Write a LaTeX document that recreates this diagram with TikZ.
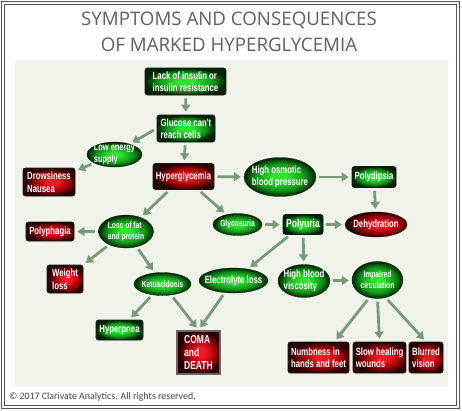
\documentclass[tikz,border=0pt]{standalone}
\usepackage{fontspec}
\setmainfont{Liberation Sans}
\newfontfamily\nf[FakeStretch=0.74]{Liberation Sans}
\newfontfamily\titlefont{Open Sans}
\newfontfamily\copyfont{Carlito}
\usetikzlibrary{arrows.meta,shapes.geometric}
\definecolor{gbright}{HTML}{2EE42E}
\definecolor{gmid}{HTML}{12941A}
\definecolor{gdark}{HTML}{002200}
\definecolor{rbright}{HTML}{F41822}
\definecolor{rmid}{HTML}{A0000A}
\definecolor{rdark}{HTML}{260000}
\definecolor{arrowc}{HTML}{789A76}
\definecolor{panel}{HTML}{EFF3EA}
\definecolor{titlec}{HTML}{606060}
\definecolor{framec}{HTML}{555555}
\pgfdeclareradialshading{greenglow}{\pgfpoint{0bp}{0bp}}{color(0bp)=(gbright); color(5bp)=(gbright); color(17bp)=(gmid); color(25bp)=(gdark); color(50bp)=(gdark)}
\pgfdeclareradialshading{redglow}{\pgfpoint{4bp}{0bp}}{color(0bp)=(rbright); color(5bp)=(rbright); color(16bp)=(rmid); color(25bp)=(rdark); color(50bp)=(rdark)}
\tikzset{
  basefont/.style={font=\nf\bfseries\fontsize{10.5}{12.5}\selectfont},
  midfont/.style={font=\nf\bfseries\fontsize{10}{12}\selectfont},
  smallfont/.style={font=\nf\bfseries\fontsize{9}{11}\selectfont},
  bigfont/.style={font=\nf\bfseries\fontsize{11.5}{13}\selectfont},
  boxbase/.style={rectangle, rounded corners=2.5pt, draw=black!90, line width=0.7pt,
    text=white, align=left, inner sep=-4pt, basefont},
  gbox/.style={boxbase, shading=greenglow},
  rbox/.style={boxbase, shading=redglow},
  ellbase/.style={ellipse, draw=gdark, line width=0.3pt, text=white, align=left,
    inner sep=-10pt, basefont},
  gell/.style={ellbase, shading=greenglow},
  rell/.style={ellbase, shading=redglow, draw=rdark},
  arr/.style={-{Triangle[width=9pt,length=7pt]}, line width=2.8pt, draw=arrowc,
    shorten <=3pt, shorten >=3pt},
  sz/.style 2 args={minimum width=#1pt, minimum height=#2pt}
}
\begin{document}
\begin{tikzpicture}[x=1pt,y=-1pt]
\useasboundingbox (0,0) rectangle (462,410);
\fill[white] (0,0) rectangle (462,410);
\draw[framec, line width=0.9pt] (1.5,1.5) rectangle (459,408.5);
\draw[framec, line width=0.9pt] (4,4) rectangle (456.5,405.5);
\fill[panel] (15,60) rectangle (448,387);

\node[font=\titlefont\fontsize{18.7}{26}\selectfont, text=titlec, align=center] (title) at (229,32)
  {SYMPTOMS AND CONSEQUENCES\\OF MARKED HYPERGLYCEMIA};
\node[font=\copyfont\fontsize{9.9}{11}\selectfont, text=black!75, anchor=west] (copy) at (5.5,397)
  {© 2017 Clarivate Analytics. All rights reserved.};

% nodes
\node[gbox, sz={81}{27}] (lack) at (185.5,81.5) {Lack of insulin or\\insulin resistance};
\node[gbox, sz={58}{27}] (gluc) at (186,128.5) {Glucose can't\\reach cells};
\node[gell, midfont, sz={55}{25}] (low) at (114.5,154.5) {Low energy\\supply};
\node[rbox, sz={52}{28}] (drow) at (49,182) {Drowsiness\\Nausea};
\node[rbox, sz={61}{26}] (hyper) at (183.5,176.5) {Hyperglycemia};
\node[gell, sz={72}{39}] (osm) at (280,177) {High osmotic\\blood pressure};
\node[gbox, sz={44}{21}] (polyd) at (374,177) {Polydipsia};
\node[rbox, sz={48}{19}] (polyph) at (50,231.5) {Polyphagia};
\node[gell, smallfont, sz={55}{33}] (loss) at (126,231.5) {Loss of fat\\and protein};
\node[gell, smallfont, sz={49}{22}] (glyc) at (237.5,224.5) {Glycosuria};
\node[gbox, bigfont, sz={40}{20}] (polyu) at (303,224.5) {Polyuria};
\node[rell, sz={62}{25}] (dehy) at (376,224.5) {Dehydration};
\node[rbox, sz={36}{28}] (weight) at (65,279) {Weight\\loss};
\node[gell, smallfont, sz={57}{23}] (keto) at (162.5,284) {Ketoacidosis};
\node[gell, sz={69}{25}] (elec) at (233.5,280.5) {Electrolyte loss};
\node[gell, sz={52}{33}] (visc) at (304,281) {High blood\\viscosity};
\node[gell, smallfont, align=center, sz={51}{37}] (imp) at (377.5,280) {Impaired\\circulation};
\node[gbox, sz={47}{20}] (hyperp) at (119.5,330) {Hyperpnea};
\node[rbox, bigfont, rounded corners=0pt, draw=framec!90, line width=2pt, sz={43}{43}] (coma) at (198.5,352.5) {COMA\\and\\DEATH};
\node[rbox, sz={61}{31}] (numb) at (318.5,357.5) {Numbness in\\hands and feet};
\node[rbox, sz={53}{31}] (slow) at (379.5,357.5) {Slow healing\\wounds};
\node[rbox, sz={34}{31}] (blur) at (426,357.5) {Blurred\\vision};

% connectors
\draw[arr] (lack) -- (gluc);
\draw[arr] (gluc.west) -- (low.35);
\draw[arr] (low) -- (drow);
\draw[arr] (gluc) -- (hyper);
\draw[arr] (hyper) -- (osm);
\draw[arr] (osm) -- (polyd);
\draw[arr] (polyd) -- (dehy);
\draw[arr] (hyper) -- (loss);
\draw[arr] (hyper) -- (glyc);
\draw[arr] (loss) -- (polyph);
\draw[arr] (loss) -- (weight);
\draw[arr] (loss) -- (keto);
\draw[arr] (glyc) -- (polyu);
\draw[arr] (polyu) -- (dehy);
\draw[arr] (polyu) -- (elec);
\draw[arr] (polyu) -- (visc);
\draw[arr] (visc) -- (imp);
\draw[arr] (keto) -- (hyperp);
\draw[arr] (keto) -- (coma.north);
\draw[arr] (elec) -- (coma.north);
\draw[arr] (imp.245) -- ([xshift=16pt]numb.north);
\draw[arr] (imp.south) -- (slow.north);
\draw[arr] (imp.295) -- (blur.north);
\end{tikzpicture}
\end{document}
